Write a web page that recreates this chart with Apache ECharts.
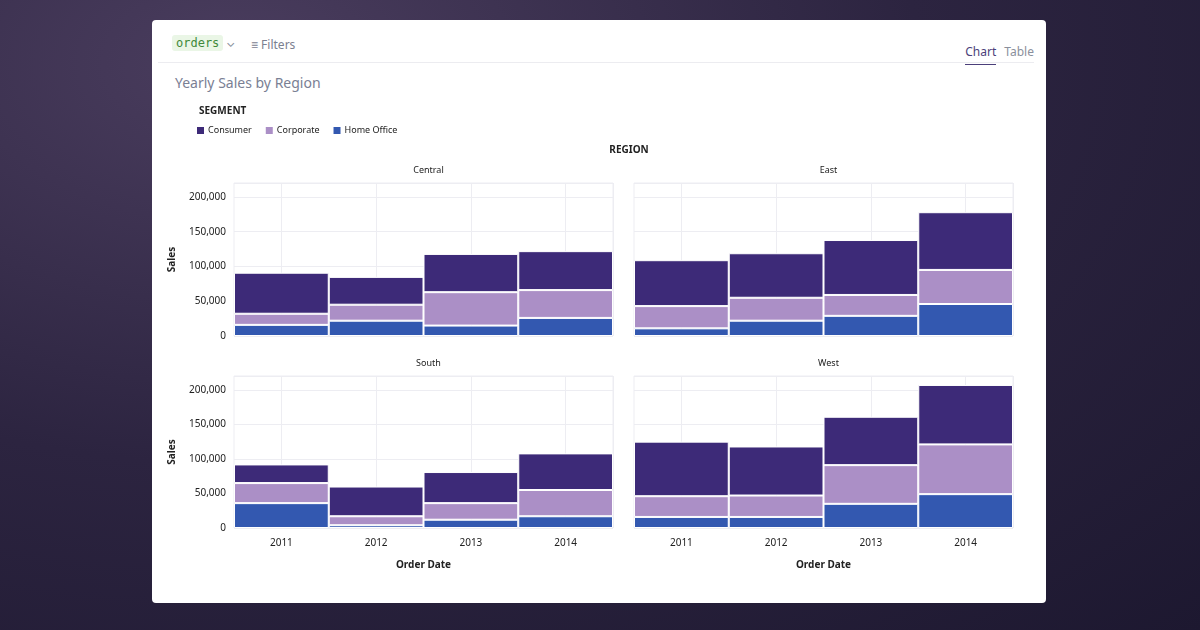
<!DOCTYPE html>
<html>
<head>
<meta charset="utf-8">
<script src="https://cdn.jsdelivr.net/npm/echarts@6/dist/echarts.min.js"></script>
<style>
  html, body { margin: 0; width: 1200px; height: 630px; overflow: hidden; font-family: "Noto Sans", Inter, sans-serif; }
  body { background: radial-gradient(ellipse at 20% 10%, #4a3d5e 0%, #2c2440 50%, #1d1830 100%); position: relative; }
  .card { position: absolute; left: 152px; top: 20px; width: 894px; height: 583px; background: #fff; border-radius: 4px; }
  .tag { position: absolute; left: 20px; top: 15px; padding: 1px 4px; background: #eaf6e6; color: #3f8a3a; font-family: "DejaVu Sans Mono", monospace; font-size: 12px; border-radius: 3px; }
  .chev { position: absolute; left: 74px; top: 14px; color: #8a8f9c; font-size: 12px; }
  .filters { position: absolute; left: 99px; top: 16px; color: #7b8090; font-size: 12px; }
  .tabs { position: absolute; right: 12px; top: 23px; font-size: 12px; }
  .tabs span { margin-left: 8px; color: #8a8f9c; padding-bottom: 4px; }
  .tabs .on { color: #4b3f7a; border-bottom: 1.5px solid #4b3f7a; }
  .divider { position: absolute; left: 6px; right: 12px; top: 42px; border-top: 1px solid #ececf0; }
  .title { position: absolute; left: 23px; top: 53px; color: #7a8094; font-size: 14px; }
  #output { position: absolute; left: 0; top: 0; width: 1200px; height: 630px; }
</style>
</head>
<body>
<div class="card">
  <div class="tag">orders</div>
  <div class="chev">&#8964;</div>
  <div class="filters">&#8801; Filters</div>
  <div class="tabs"><span class="on">Chart</span><span>Table</span></div>
  <div class="divider"></div>
  <div class="title">Yearly Sales by Region</div>
</div>
<div id="output"></div>
<script>
const chart = echarts.init(document.getElementById('output'));

const years = ['2011', '2012', '2013', '2014']
const regions = ['Central', 'East', 'South', 'West']
const segments = ['Consumer', 'Corporate', 'Home Office']
const colors = ['#3d2a78', '#ab8fc6', '#3358b0']

// sales per region, per year
const homeOffice = {
  Central: [16000, 22000, 15000, 26000],
  East: [11000, 22000, 29000, 46000],
  South: [36000, 4000, 12000, 17000],
  West: [16000, 16000, 35000, 49000]
}
const corporate = {
  Central: [16000, 23000, 48000, 40000],
  East: [32000, 33000, 30000, 49000],
  South: [29000, 13000, 24000, 38000],
  West: [30000, 31000, 56000, 72000]
}
const consumer = {
  Central: [59000, 40000, 55000, 56000],
  East: [66000, 64000, 79000, 83000],
  South: [27000, 43000, 45000, 53000],
  West: [79000, 71000, 70000, 86000]
}
const segData = { Consumer: consumer, Corporate: corporate, 'Home Office': homeOffice }

const grids = [
  { left: 234, top: 183, width: 379, height: 153 },
  { left: 634, top: 183, width: 379, height: 153 },
  { left: 234, top: 376, width: 379, height: 152 },
  { left: 634, top: 376, width: 379, height: 152 }
]

const txt = '#222'
const gridLine = { show: true, lineStyle: { color: '#ededf2' } }

const xAxis = []
const yAxis = []
const series = []
const titles = []

grids.forEach((g, i) => {
  const bottom = i >= 2
  xAxis.push({
    type: 'category', gridIndex: i, data: years,
    axisLine: { show: false }, axisTick: { show: false },
    axisLabel: { show: bottom, color: txt, fontSize: 10, margin: 10 },
    name: bottom ? 'Order Date' : '', nameLocation: 'middle', nameGap: 32,
    nameTextStyle: { color: txt, fontSize: 10, fontWeight: 'bold' }
  })
  yAxis.push({
    type: 'value', gridIndex: i, min: 0, max: 220000, interval: 50000,
    splitLine: gridLine,
    axisLine: { show: false }, axisTick: { show: false },
    axisLabel: { show: i % 2 === 0, showMaxLabel: false, color: txt, fontSize: 10, formatter: v => v.toLocaleString('en-US') },
    name: i % 2 === 0 ? 'Sales' : '', nameLocation: 'middle', nameGap: 57,
    nameTextStyle: { color: txt, fontSize: 10, fontWeight: 'bold' }
  })
  titles.push({
    text: regions[i], left: g.left + g.width / 2, top: g.top - 22, textAlign: 'center',
    textStyle: { fontSize: 9, fontWeight: 'normal', color: txt }
  })
})

// hidden half-step category axes: vertical grid lines at the year centres
const halfSlots = ['', '', '', '', '', '', '', '']
grids.forEach((g, i) => {
  xAxis.push({
    type: 'category', gridIndex: i, data: halfSlots,
    axisLine: { show: false }, axisTick: { show: false }, axisLabel: { show: false },
    splitLine: { show: true, interval: idx => idx % 2 === 1, lineStyle: { color: '#ededf2' } }
  })
})

grids.forEach((g, i) => {
  segments.slice().reverse().forEach(seg => {
    series.push({
      type: 'bar', name: seg, stack: 'r' + i, xAxisIndex: i, yAxisIndex: i,
      data: segData[seg][regions[i]],
      barCategoryGap: 0, barWidth: '100%',
      itemStyle: { color: colors[segments.indexOf(seg)], borderColor: '#fff', borderWidth: 1 },
      z: 3
    })
  })
})

titles.push({ text: 'SEGMENT', left: 194, top: 101, textStyle: { fontSize: 10, fontWeight: 'bold', color: txt } })
titles.push({ text: 'REGION', left: 624, top: 140, textAlign: 'center', textStyle: { fontSize: 10, fontWeight: 'bold', color: txt } })

chart.setOption({
  textStyle: { fontFamily: 'Noto Sans' },
  animation: false,
  title: titles,
  legend: {
    data: segments, left: 190, top: 120, icon: 'rect', itemWidth: 9, itemHeight: 9, itemGap: 12,
    textStyle: { fontSize: 9, color: txt, padding: [0, 0, 0, -2] }
  },
  grid: grids.map(g => ({ ...g, show: true, borderColor: '#ededf2', borderWidth: 1 })),
  xAxis,
  yAxis,
  series
})
</script>
</body>
</html>
